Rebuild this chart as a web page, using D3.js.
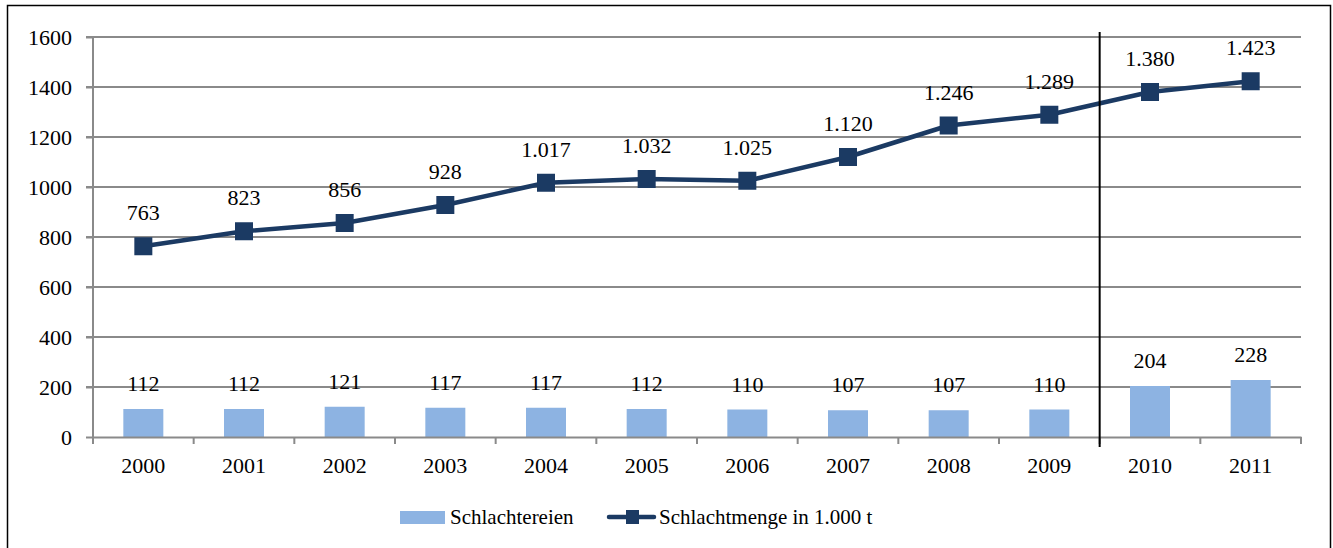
<!DOCTYPE html>
<html>
<head>
<meta charset="utf-8">
<script src="https://cdn.jsdelivr.net/npm/d3@7"></script>
<style>
  body { margin: 0; background: #fff; }
  svg text { font-family: "Liberation Serif", "Times New Roman", serif !important; fill: #000; }
</style>
</head>
<body>
<div id="chart"></div>
<script>
// chart data
const years = ["2000", "2001", "2002", "2003", "2004", "2005", "2006", "2007", "2008", "2009", "2010", "2011"];
const schlachtereien = [112, 112, 121, 117, 117, 112, 110, 107, 107, 110, 204, 228];
const schlachtmenge = [763, 823, 856, 928, 1017, 1032, 1025, 1120, 1246, 1289, 1380, 1423];
const yTicks = [0, 200, 400, 600, 800, 1000, 1200, 1400, 1600];
const dividerAfter = "2009";

const W = 1333, H = 548;
const margin = { top: 37, right: 32, bottom: 111, left: 93 };
const width = W - margin.left - margin.right;
const height = H - margin.top - margin.bottom;
const serif = '"Liberation Serif", "Times New Roman", serif';

const fmt = d => d >= 1000 ? d3.format(",")(d).replace(/,/g, ".") : String(d);

const svg = d3.select("#chart").append("svg")
  .attr("width", W)
  .attr("height", H);

// outer frame (no bottom edge visible)
svg.append("path")
  .attr("d", `M7.5,${H} V5.5 H1330.5 V${H}`)
  .attr("fill", "none")
  .attr("stroke", "#000")
  .attr("stroke-width", 1.5);

const g = svg.append("g")
  .attr("transform", `translate(${margin.left},${margin.top})`);

const x = d3.scaleBand()
  .domain(years)
  .range([0, width]);

const y = d3.scaleLinear()
  .domain([0, 1600])
  .range([height, 0]);

// gridlines
g.append("g")
  .selectAll("line")
  .data(yTicks.filter(d => d > 0))
  .enter()
  .append("line")
  .attr("x1", -7)
  .attr("x2", width)
  .attr("y1", d => y(d))
  .attr("y2", d => y(d))
  .attr("stroke", "#8a8a8a")
  .attr("stroke-width", 2);

// y axis
const yAxis = g.append("g")
  .call(d3.axisLeft(y).tickValues(yTicks).tickFormat(d => String(d)).tickSize(7).tickPadding(14));
yAxis.attr("font-family", null).attr("font-size", null);
yAxis.select(".domain").attr("stroke", "#8a8a8a").attr("stroke-width", 2).attr("d", `M0,${height}V0`);
yAxis.selectAll(".tick line").attr("stroke", "#8a8a8a").attr("stroke-width", 2);
yAxis.selectAll(".tick text").style("font-size", "22px").style("font-family", serif);

// bars
g.append("g")
  .selectAll("rect")
  .data(schlachtereien)
  .enter()
  .append("rect")
  .attr("x", (d, i) => x(years[i]) + x.bandwidth() / 2 - 20)
  .attr("width", 40)
  .attr("y", d => y(d))
  .attr("height", d => height - y(d))
  .attr("fill", "#8db3e2");

// x axis
const xAxis = g.append("g")
  .attr("transform", `translate(0,${height})`)
  .call(d3.axisBottom(x).tickSize(0).tickPadding(20));
xAxis.attr("font-family", null).attr("font-size", null);
xAxis.select(".domain").attr("stroke", "#8a8a8a").attr("stroke-width", 2);
xAxis.selectAll(".tick text").style("font-size", "22px").style("font-family", serif);

// tick marks at category boundaries
g.append("g")
  .selectAll("line")
  .data(d3.range(years.length + 1))
  .enter()
  .append("line")
  .attr("x1", i => i * x.step())
  .attr("x2", i => i * x.step())
  .attr("y1", height)
  .attr("y2", height + 7)
  .attr("stroke", "#8a8a8a")
  .attr("stroke-width", 2);

// bar labels
g.append("g")
  .selectAll("text")
  .data(schlachtereien)
  .enter()
  .append("text")
  .attr("x", (d, i) => x(years[i]) + x.bandwidth() / 2)
  .attr("y", d => y(d) - 18)
  .attr("text-anchor", "middle")
  .style("font-size", "22px")
  .style("font-family", serif)
  .text(d => fmt(d));

// line
const cx = (d, i) => x(years[i]) + x.bandwidth() / 2;
g.append("path")
  .datum(schlachtmenge)
  .attr("fill", "none")
  .attr("stroke", "#1b3a63")
  .attr("stroke-width", 4.5)
  .attr("stroke-linejoin", "round")
  .attr("d", d3.line().x(cx).y(d => y(d)));

g.append("g")
  .selectAll("rect")
  .data(schlachtmenge)
  .enter()
  .append("rect")
  .attr("x", (d, i) => cx(d, i) - 9)
  .attr("y", d => y(d) - 9)
  .attr("width", 18)
  .attr("height", 18)
  .attr("fill", "#1b3a63");

g.append("g")
  .selectAll("text")
  .data(schlachtmenge)
  .enter()
  .append("text")
  .attr("x", cx)
  .attr("y", d => y(d) - 26)
  .attr("text-anchor", "middle")
  .style("font-size", "22px")
  .style("font-family", serif)
  .text(d => fmt(d));

// divider between 2009 and 2010
const dx = x(dividerAfter) + x.step();
g.append("line")
  .attr("x1", dx)
  .attr("x2", dx)
  .attr("y1", -5)
  .attr("y2", height + 10)
  .attr("stroke", "#000")
  .attr("stroke-width", 2);

// legend
const legend = svg.append("g").attr("transform", "translate(0,517)");
legend.append("rect")
  .attr("x", 400).attr("y", -6).attr("width", 45).attr("height", 13)
  .attr("fill", "#8db3e2");
legend.append("text")
  .attr("x", 450).attr("y", 7)
  .style("font-size", "21px")
  .style("font-family", serif)
  .text("Schlachtereien");
legend.append("line")
  .attr("x1", 609).attr("x2", 654).attr("y1", 0).attr("y2", 0)
  .attr("stroke", "#1b3a63").attr("stroke-width", 4.5).attr("stroke-linecap", "round");
legend.append("rect")
  .attr("x", 626).attr("y", -7).attr("width", 13).attr("height", 14)
  .attr("fill", "#1b3a63");
legend.append("text")
  .attr("x", 659).attr("y", 7)
  .style("font-size", "21px")
  .style("font-family", serif)
  .text("Schlachtmenge in 1.000 t");
</script>
</body>
</html>
